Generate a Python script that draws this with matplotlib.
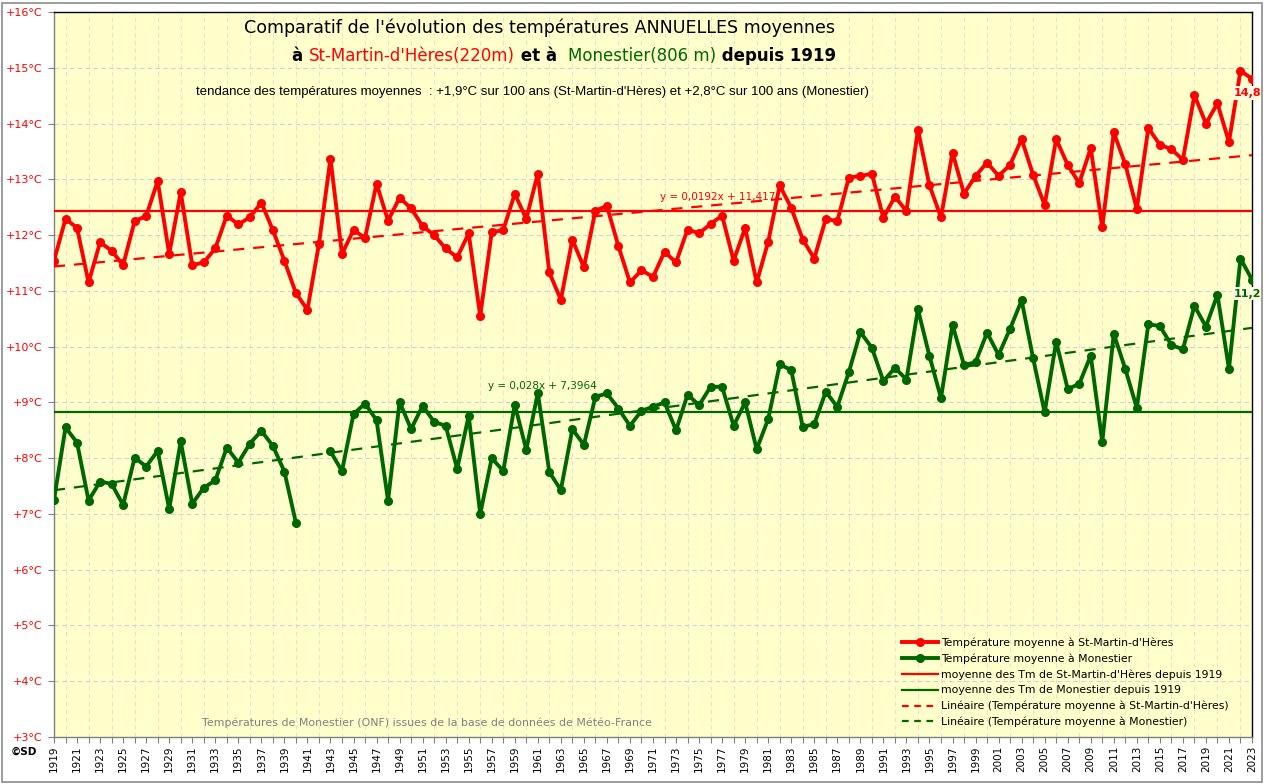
import numpy as np
import matplotlib as mpl
import matplotlib.pyplot as plt
from matplotlib.lines import Line2D
from matplotlib.patches import Rectangle
from matplotlib.offsetbox import TextArea, HPacker, AnchoredOffsetbox

mpl.rcParams['font.family'] = 'DejaVu Sans'

years = np.arange(1919, 2024)

# Température moyenne annuelle à St-Martin-d'Hères (220 m)
t_smh = [
    11.54, 12.29, 12.13, 11.15, 11.87, 11.72, 11.46, 12.25, 12.34, 12.97,
    11.66, 12.77, 11.46, 11.51, 11.76, 12.35, 12.19, 12.32, 12.58, 12.09,
    11.54, 10.96, 10.66, 11.84, 13.37, 11.66, 12.09, 11.95, 12.92, 12.26,
    12.67, 12.48, 12.16, 12.00, 11.76, 11.60, 12.03, 10.55, 12.05, 12.09,
    12.74, 12.29, 13.10, 11.33, 10.84, 11.92, 11.42, 12.44, 12.52, 11.80,
    11.15, 11.37, 11.25, 11.70, 11.51, 12.10, 12.03, 12.20, 12.35, 11.54,
    12.13, 11.15, 11.88, 12.89, 12.49, 11.92, 11.58, 12.29, 12.25, 13.03,
    13.06, 13.10, 12.31, 12.69, 12.43, 13.89, 12.89, 12.32, 13.48, 12.74,
    13.06, 13.30, 13.06, 13.26, 13.72, 13.08, 12.54, 13.72, 13.26, 12.93,
    13.56, 12.14, 13.84, 13.27, 12.47, 13.92, 13.62, 13.54, 13.35, 14.51,
    14.00, 14.36, 13.67, 14.95, 14.80,
]

# Température moyenne annuelle à Monestier (806 m), 1941-1942 manquantes
t_mon = [
    7.25, 8.55, 8.28, 7.24, 7.58, 7.54, 7.16, 8.01, 7.85, 8.13,
    7.09, 8.30, 7.18, 7.47, 7.60, 8.19, 7.92, 8.26, 8.49, 8.22,
    7.76, 6.84, np.nan, np.nan, 8.12, 7.77, 8.79, 8.98, 8.68, 7.24,
    9.01, 8.52, 8.94, 8.65, 8.58, 7.81, 8.76, 7.00, 8.00, 7.77,
    8.96, 8.15, 9.17, 7.75, 7.43, 8.52, 8.24, 9.10, 9.16, 8.89,
    8.58, 8.85, 8.92, 9.00, 8.50, 9.14, 8.95, 9.28, 9.28, 8.58,
    9.00, 8.16, 8.70, 9.68, 9.58, 8.56, 8.61, 9.19, 8.92, 9.54,
    10.26, 9.98, 9.38, 9.62, 9.41, 10.67, 9.83, 9.08, 10.39, 9.67,
    9.72, 10.25, 9.85, 10.32, 10.83, 9.79, 8.82, 10.09, 9.24, 9.33,
    9.84, 8.29, 10.23, 9.60, 8.90, 10.40, 10.37, 10.03, 9.95, 10.73,
    10.36, 10.93, 9.60, 11.58, 11.20,
]

mean_smh = 12.44
mean_mon = 8.83
trend_smh = (0.0192, 11.417)
trend_mon = (0.028, 7.3964)

red = '#FF0000'
green = '#006600'

fig = plt.figure(figsize=(12.66, 7.84), dpi=100)
fig.patch.set_facecolor('white')
fig.add_artist(Rectangle((2 / 1266, 2 / 784), 1260 / 1266, 779 / 784,
                         transform=fig.transFigure, fill=False,
                         edgecolor='#8c8c8c', lw=1.2))

ax = fig.add_axes([54 / 1266, 47 / 784, 1198 / 1266, 725 / 784])
ax.set_facecolor('#FFFFCC')

idx = np.arange(1, len(years) + 1)
ax.plot(years, t_smh, color=red, lw=2.8, marker='o', ms=5.5, zorder=5)
ax.plot(years, t_mon, color=green, lw=2.8, marker='o', ms=5.5, zorder=5)
ax.axhline(mean_smh, color=red, lw=1.6, zorder=4)
ax.axhline(mean_mon, color=green, lw=1.6, zorder=4)
ax.plot(years, trend_smh[0] * idx + trend_smh[1], color=red, lw=1.6,
        ls=(0, (5, 4)), zorder=4)
ax.plot(years, trend_mon[0] * idx + trend_mon[1], color=green, lw=1.6,
        ls=(0, (5, 4)), zorder=4)

ax.text(1981.6, 12.60, 'y = 0,0192x + 11,417', color=red, fontsize=7.5,
        ha='right', va='bottom', zorder=6)
ax.text(1966.1, 9.20, 'y = 0,028x + 7,3964', color=green, fontsize=7.5,
        ha='right', va='bottom', zorder=6)

ax.text(2022.6, t_smh[-1] - 0.25, '14,8', color=red, fontsize=8,
        fontweight='bold', ha='center', va='center', zorder=7,
        bbox=dict(boxstyle='square,pad=0.15', fc='#FFFBE0', ec='none'))
ax.text(2022.6, t_mon[-1] - 0.25, '11,2', color=green, fontsize=8,
        fontweight='bold', ha='center', va='center', zorder=7,
        bbox=dict(boxstyle='square,pad=0.15', fc='#FFFBE0', ec='none'))

ax.set_xlim(1919, 2023)
ax.set_ylim(3, 16)
ax.set_yticks(range(3, 17))
ax.set_yticklabels([f'+{v}°C' for v in range(3, 17)], color=red, fontsize=8)
ax.set_xticks(range(1919, 2024, 2))
ax.set_xticklabels([str(y) for y in range(1919, 2024, 2)], rotation=90,
                   fontsize=7.5)
ax.set_xticks(range(1919, 2024), minor=True)
ax.tick_params(axis='both', which='both', color='#808080', length=4,
               width=0.8, pad=2)
ax.tick_params(axis='y', pad=4.5)

ax.grid(axis='y', which='major', color='#CFCFDF', ls=(0, (4, 3)), lw=0.8)
ax.grid(axis='x', which='minor', color='#F2DCCF', ls=(0, (4, 3)), lw=0.8)
ax.set_axisbelow(True)

for side in ['left', 'bottom']:
    ax.spines[side].set_color('#808080')
for side in ['top', 'right']:
    ax.spines[side].set_color('black')
for s in ax.spines.values():
    s.set_linewidth(1)

handles = [
    Line2D([], [], color=red, lw=2.8, marker='o', ms=5.5),
    Line2D([], [], color=green, lw=2.8, marker='o', ms=5.5),
    Line2D([], [], color=red, lw=1.6),
    Line2D([], [], color=green, lw=1.6),
    Line2D([], [], color=red, lw=1.6, ls=(0, (3, 2.5))),
    Line2D([], [], color=green, lw=1.6, ls=(0, (3, 2.5))),
]
labels = [
    "Température moyenne à St-Martin-d'Hères",
    'Température moyenne à Monestier',
    "moyenne des Tm de St-Martin-d'Hères depuis 1919",
    'moyenne des Tm de Monestier depuis 1919',
    "Linéaire (Température moyenne à St-Martin-d'Hères)",
    'Linéaire (Température moyenne à Monestier)',
]
ax.legend(handles, labels, loc='lower left', bbox_to_anchor=(0.700, 0.0),
          frameon=False, fontsize=7.8, handlelength=3.3, handletextpad=0.25,
          labelspacing=0.5)

fig.text(540 / 1266, 1 - 28 / 784,
         "Comparatif de l'évolution des températures ANNUELLES moyennes",
         fontsize=12.6, ha='center', va='center')

parts = [
    ('à ', 'black', 'bold'),
    ("St-Martin-d'Hères(220m)", red, 'normal'),
    (' et à  ', 'black', 'bold'),
    ('Monestier(806 m)', green, 'normal'),
    (' depuis 1919', 'black', 'bold'),
]
boxes = [TextArea(t, textprops=dict(color=c, fontsize=12, fontweight=w))
         for t, c, w in parts]
line2 = HPacker(children=boxes, align='baseline', pad=0, sep=0)
fig.add_artist(AnchoredOffsetbox(loc='center', child=line2, frameon=False,
                                 bbox_to_anchor=(564 / 1266, 1 - 56 / 784),
                                 bbox_transform=fig.transFigure, pad=0,
                                 borderpad=0))

fig.text(532 / 1266, 1 - 92 / 784,
         "tendance des températures moyennes  : +1,9°C sur 100 ans "
         "(St-Martin-d'Hères) et +2,8°C sur 100 ans (Monestier)",
         fontsize=9.5, ha='center', va='center', family='Liberation Sans')

fig.text(427 / 1266, 1 - 723 / 784,
         'Températures de Monestier (ONF) issues de la base de données de Météo-France',
         fontsize=7.9, color='#808080', ha='center', va='center')
fig.text(11 / 1266, 1 - 752 / 784, '©SD', fontsize=7.5, fontweight='bold',
         ha='left', va='center')

fig.savefig('out.png', dpi=100)
